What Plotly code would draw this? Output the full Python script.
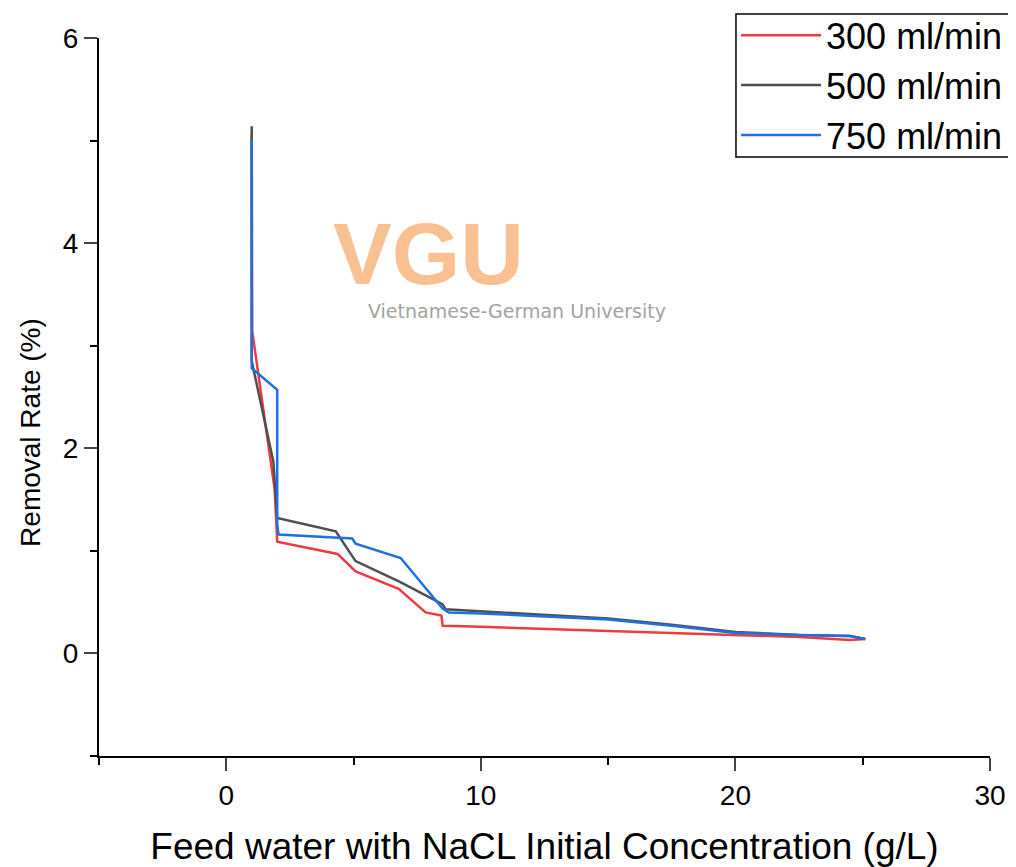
import plotly.graph_objects as go

# 300 ml/min
x_300 = [1.0, 1.02, 1.9, 2.0, 4.37, 5.08, 6.77, 7.83, 8.45, 8.5, 10, 12.5, 15, 17.5, 20, 22.5, 24.5, 25.1]
y_300 = [5.06, 3.14, 1.6, 1.09, 0.97, 0.80, 0.63, 0.40, 0.37, 0.27, 0.26, 0.24, 0.22, 0.20, 0.18, 0.16, 0.13, 0.14]

# 500 ml/min
x_500 = [1.0, 1.0, 1.85, 2.0, 4.3, 5.08, 6.8, 8.49, 8.62, 10, 12.5, 15, 17.5, 20, 22.5, 24.5, 25.1]
y_500 = [5.14, 2.85, 1.87, 1.32, 1.19, 0.90, 0.70, 0.48, 0.43, 0.41, 0.37, 0.34, 0.28, 0.21, 0.18, 0.17, 0.14]

# 750 ml/min
x_750 = [1.0, 1.0, 2.0, 2.0, 2.05, 4.95, 5.08, 6.85, 8.49, 8.74, 10, 12.5, 15, 17.5, 20, 22.5, 24.5, 25.1]
y_750 = [5.01, 2.78, 2.57, 1.26, 1.16, 1.12, 1.07, 0.93, 0.44, 0.40, 0.39, 0.36, 0.33, 0.27, 0.20, 0.18, 0.17, 0.14]

names = ["300 ml/min", "500 ml/min", "750 ml/min"]
clrs = ["#EE3B3E", "#4F4F4F", "#1E6FE2"]

fig = go.Figure()
for nm, xs, ys, c in zip(names, [x_300, x_500, x_750], [y_300, y_500, y_750], clrs):
    fig.add_trace(go.Scatter(x=xs, y=ys, name=nm, mode="lines",
                             line=dict(color=c, width=2.5)))

# watermark
fig.add_annotation(x=7.95, y=3.9, xref="x", yref="y", text="<b>VGU</b>", showarrow=False,
                   font=dict(family="Liberation Sans Narrow, Liberation Sans", size=88, color="#F9C191"))
fig.add_annotation(x=11.4, y=3.34, xref="x", yref="y", text="Vietnamese-German University",
                   showarrow=False, font=dict(family="DejaVu Sans", size=19, color="#A3A3A3"))

# y title (sits a bit below the middle of the axis)
fig.add_annotation(x=-0.0763, y=0.45, xref="paper", yref="paper", text="Removal Rate (%)",
                   textangle=-90, showarrow=False, xanchor="center", yanchor="middle",
                   font=dict(family="Liberation Sans", size=28, color="black"))

# legend frame
fig.add_shape(type="rect", xref="paper", yref="paper", x0=0.7149, x1=1.04, y0=0.8343, y1=1.0334,
              line=dict(color="black", width=1.5), fillcolor="white", layer="above")

axis_font = dict(family="Liberation Sans", size=28, color="black")
fig.update_layout(
    width=1016, height=867,
    margin=dict(l=91, r=34, t=30, b=119, autoexpand=False),
    plot_bgcolor="white", paper_bgcolor="white",
    font=dict(family="Liberation Sans", color="black"),
    legend=dict(x=0.715, y=0.934, xanchor="left", yanchor="middle",
                borderwidth=0, bgcolor="rgba(0,0,0,0)", itemwidth=80,
                font=dict(size=36, family="Liberation Sans")),
    xaxis=dict(range=[-5, 30], tick0=0, dtick=10, ticks="outside", ticklen=13, tickwidth=2,
               showline=True, linecolor="black", linewidth=2, showgrid=False, zeroline=False,
               tickfont=axis_font,
               minor=dict(dtick=5, tick0=0, ticks="outside", ticklen=7, tickwidth=2, tickcolor="black"),
               title=dict(text="Feed water with NaCL Initial Concentration (g/L)",
                          font=dict(size=37), standoff=24)),
    yaxis=dict(range=[-1, 6], tick0=0, dtick=2, ticks="outside", ticklen=13, tickwidth=2,
               showline=True, linecolor="black", linewidth=2, showgrid=False, zeroline=False,
               tickfont=axis_font,
               minor=dict(dtick=1, tick0=0, ticks="outside", ticklen=7, tickwidth=2, tickcolor="black")),
)

fig.write_html("out.html")
